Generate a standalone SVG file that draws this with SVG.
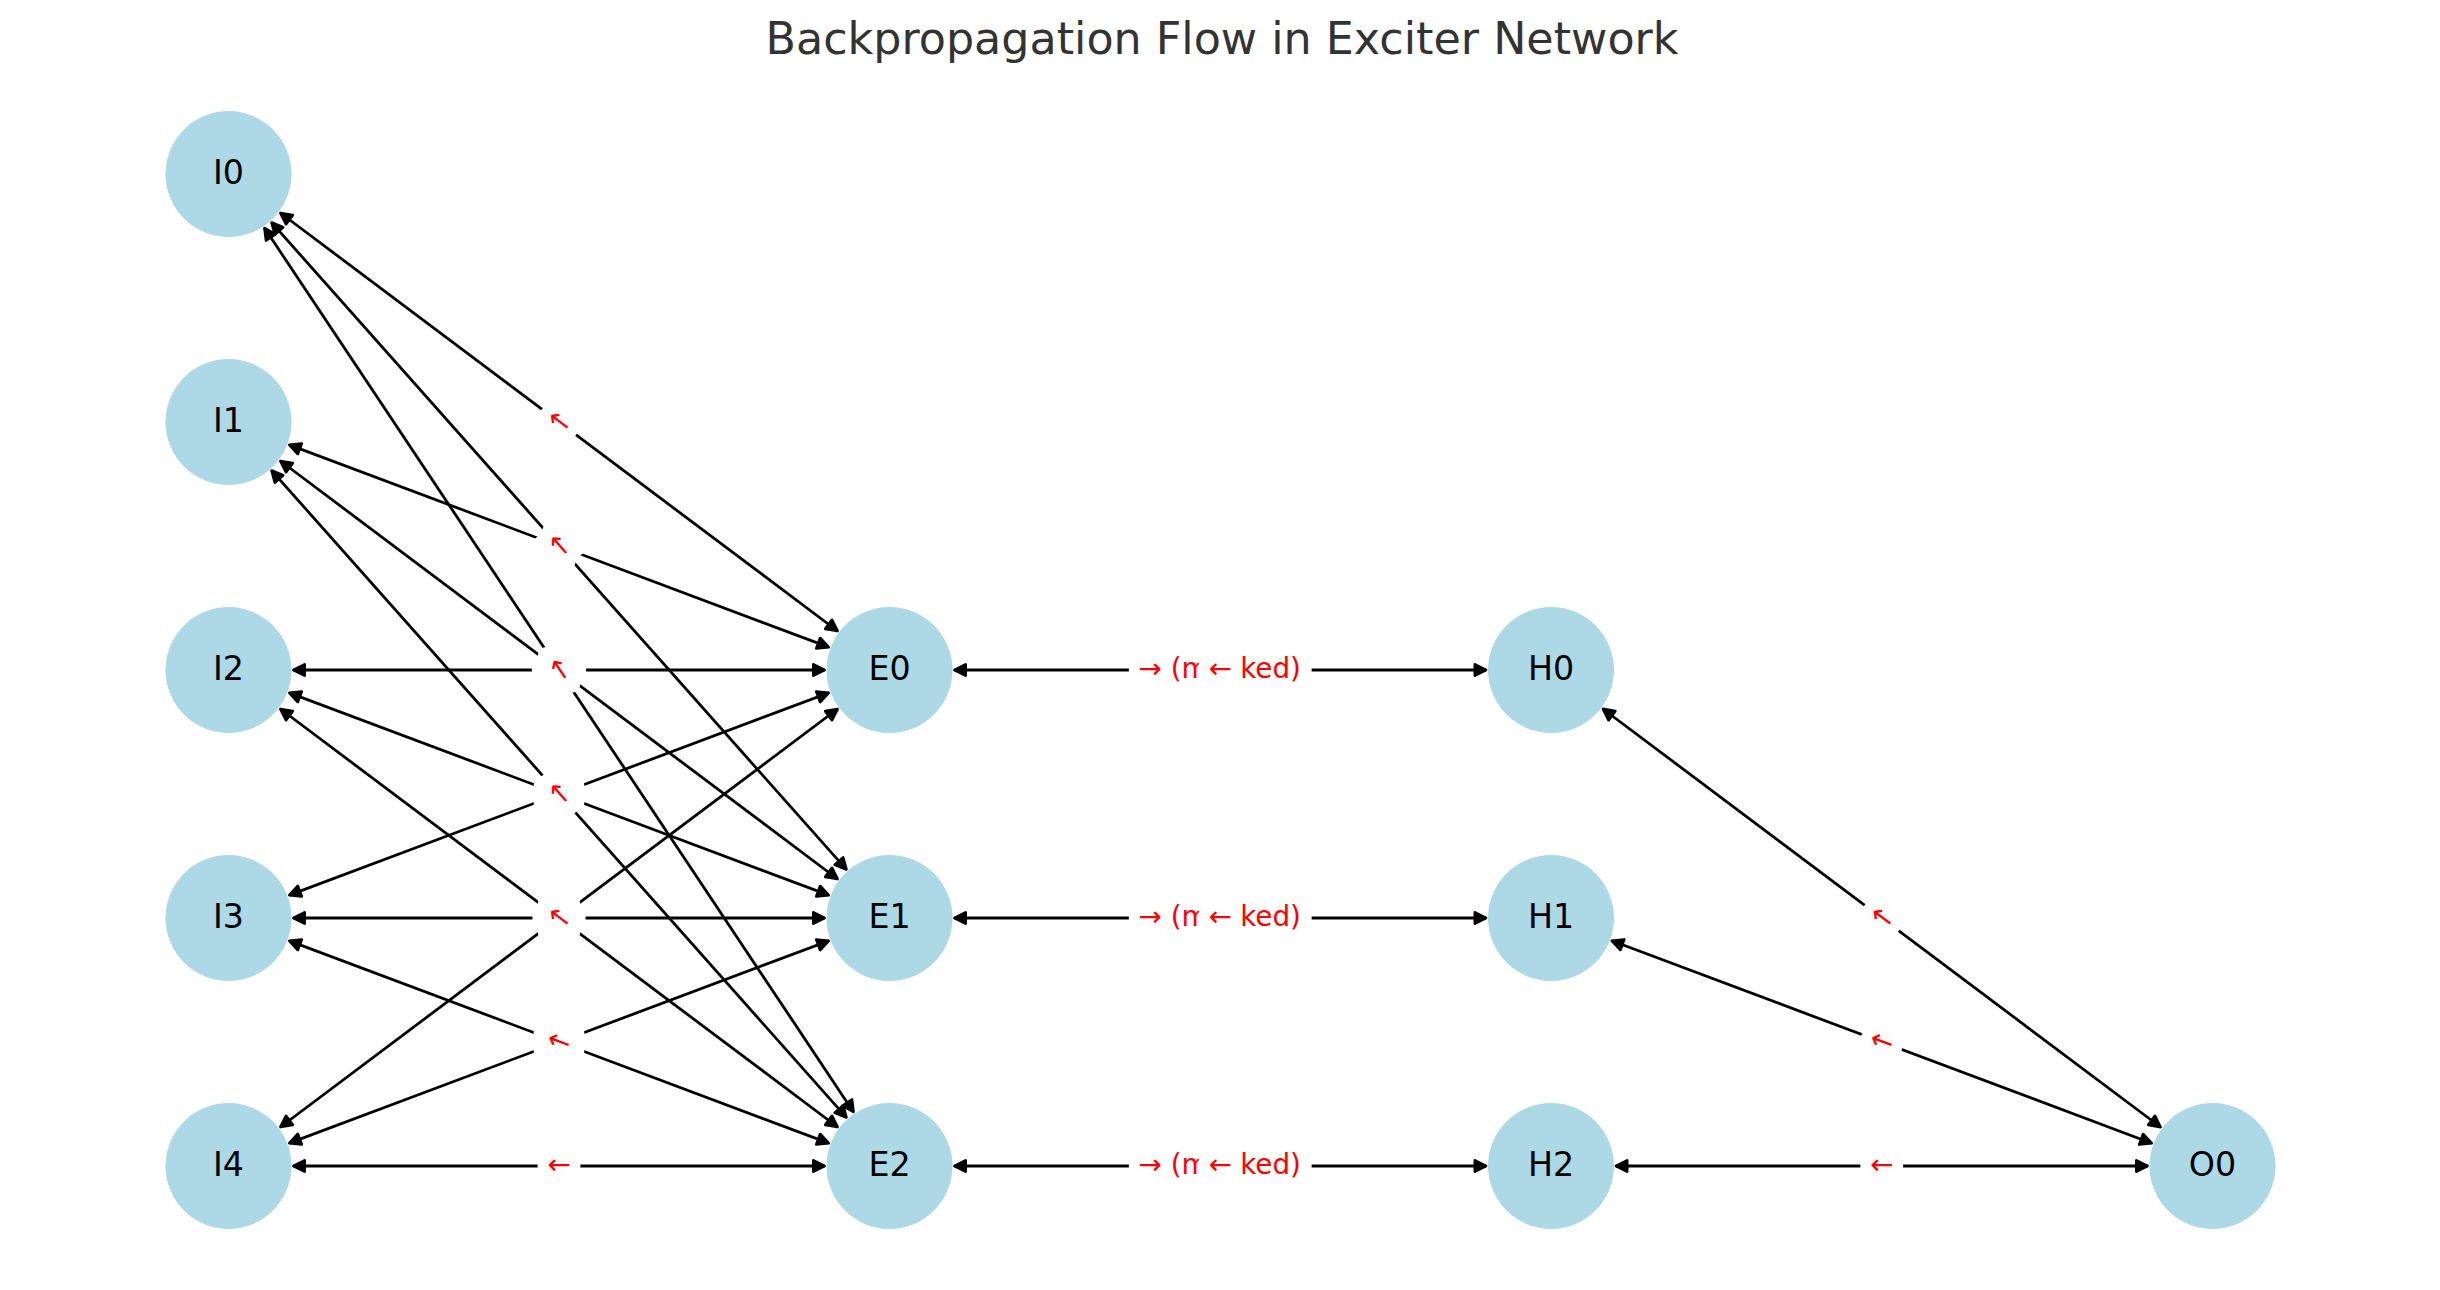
<svg xmlns="http://www.w3.org/2000/svg" width="2440" height="1290" viewBox="0 0 2440 1290">
<style>
.edge{stroke:#000;stroke-width:2.78;fill:none;marker-start:url(#ah);marker-end:url(#ah)}
.node{fill:#ADD8E6}
.nl{font-family:"DejaVu Sans","Liberation Sans",sans-serif;font-size:33.3px;fill:#000;text-anchor:middle}
.el{font-family:"DejaVu Sans","Liberation Sans",sans-serif;font-size:27.8px;fill:#FF0000;text-anchor:middle}
.es{font-family:"DejaVu Sans","Liberation Sans",sans-serif;font-size:27.8px;fill:#FF0000;text-anchor:start}
.lb{fill:#fff;stroke:#fff;stroke-width:2.78}
.title{font-family:"DejaVu Sans","Liberation Sans",sans-serif;font-size:44.4px;fill:#333333;text-anchor:middle}
</style>
<defs>
<marker id="ah" markerUnits="userSpaceOnUse" orient="auto-start-reverse" refX="11.1" refY="0" markerWidth="20" markerHeight="20" overflow="visible">
<path d="M0,-5.56 L11.1,0 L0,5.56 Z" fill="#000" stroke="#000" stroke-width="2.78" stroke-linejoin="round"/>
</marker>
</defs>
<rect width="2440" height="1290" fill="#fff"/>
<text class="title" x="1222" y="54">Backpropagation Flow in Exciter Network</text>
<g id="connectors">
<line class="edge" x1="280.49" y1="213.01" x2="837.51" y2="630.99"/>
<line class="edge" x1="271.67" y1="222.59" x2="846.33" y2="869.41"/>
<line class="edge" x1="264.54" y1="228.09" x2="853.46" y2="1111.91"/>
<line class="edge" x1="289.36" y1="444.83" x2="828.64" y2="647.17"/>
<line class="edge" x1="280.49" y1="461.01" x2="837.51" y2="878.99"/>
<line class="edge" x1="271.67" y1="470.59" x2="846.33" y2="1117.41"/>
<line class="edge" x1="293.5" y1="670" x2="824.5" y2="670"/>
<line class="edge" x1="289.36" y1="692.83" x2="828.64" y2="895.17"/>
<line class="edge" x1="280.49" y1="709.01" x2="837.51" y2="1126.99"/>
<line class="edge" x1="289.36" y1="895.17" x2="828.64" y2="692.83"/>
<line class="edge" x1="293.5" y1="918" x2="824.5" y2="918"/>
<line class="edge" x1="289.36" y1="940.83" x2="828.64" y2="1143.17"/>
<line class="edge" x1="280.49" y1="1126.99" x2="837.51" y2="709.01"/>
<line class="edge" x1="289.36" y1="1143.17" x2="828.64" y2="940.83"/>
<line class="edge" x1="293.5" y1="1166" x2="824.5" y2="1166"/>
<line class="edge" x1="954.5" y1="670" x2="1486" y2="670"/>
<line class="edge" x1="954.5" y1="918" x2="1486" y2="918"/>
<line class="edge" x1="954.5" y1="1166" x2="1486" y2="1166"/>
<line class="edge" x1="1603.01" y1="708.99" x2="2160.49" y2="1127.01"/>
<line class="edge" x1="1611.86" y1="940.82" x2="2151.64" y2="1143.18"/>
<line class="edge" x1="1616" y1="1166" x2="2147.5" y2="1166"/>
</g>
<g id="I0"><circle class="node" cx="228.5" cy="174" r="63"/><text class="nl" x="228.5" y="184">I0</text></g>
<g id="I1"><circle class="node" cx="228.5" cy="422" r="63"/><text class="nl" x="228.5" y="432">I1</text></g>
<g id="I2"><circle class="node" cx="228.5" cy="670" r="63"/><text class="nl" x="228.5" y="680">I2</text></g>
<g id="I3"><circle class="node" cx="228.5" cy="918" r="63"/><text class="nl" x="228.5" y="928">I3</text></g>
<g id="I4"><circle class="node" cx="228.5" cy="1166" r="63"/><text class="nl" x="228.5" y="1176">I4</text></g>
<g id="E0"><circle class="node" cx="889.5" cy="670" r="63"/><text class="nl" x="889.5" y="680">E0</text></g>
<g id="E1"><circle class="node" cx="889.5" cy="918" r="63"/><text class="nl" x="889.5" y="928">E1</text></g>
<g id="E2"><circle class="node" cx="889.5" cy="1166" r="63"/><text class="nl" x="889.5" y="1176">E2</text></g>
<g id="H0"><circle class="node" cx="1551" cy="670" r="63"/><text class="nl" x="1551" y="680">H0</text></g>
<g id="H1"><circle class="node" cx="1551" cy="918" r="63"/><text class="nl" x="1551" y="928">H1</text></g>
<g id="H2"><circle class="node" cx="1551" cy="1166" r="63"/><text class="nl" x="1551" y="1176">H2</text></g>
<g id="O0"><circle class="node" cx="2212.5" cy="1166" r="63"/><text class="nl" x="2212.5" y="1176">O0</text></g>
<g id="edge-labels">
<g transform="translate(559,422) rotate(36.88)"><rect class="lb" x="-20" y="-21.8" width="40" height="43.6" rx="8.34"/><text class="el" y="8">←</text></g>
<g transform="translate(559,546) rotate(20.56)"><rect class="lb" x="-20" y="-21.8" width="40" height="43.6" rx="8.34"/></g>
<g transform="translate(559,546) rotate(48.38)"><rect class="lb" x="-20" y="-21.8" width="40" height="43.6" rx="8.34"/><text class="el" y="8">←</text></g>
<g transform="translate(559,670)"><rect class="lb" x="-20" y="-21.8" width="40" height="43.6" rx="8.34"/></g>
<g transform="translate(559,670) rotate(36.88)"><rect class="lb" x="-20" y="-21.8" width="40" height="43.6" rx="8.34"/></g>
<g transform="translate(559,670) rotate(56.32)"><rect class="lb" x="-20" y="-21.8" width="40" height="43.6" rx="8.34"/><text class="el" y="8">←</text></g>
<g transform="translate(559,794) rotate(-20.56)"><rect class="lb" x="-20" y="-21.8" width="40" height="43.6" rx="8.34"/></g>
<g transform="translate(559,794) rotate(20.56)"><rect class="lb" x="-20" y="-21.8" width="40" height="43.6" rx="8.34"/></g>
<g transform="translate(559,794) rotate(48.38)"><rect class="lb" x="-20" y="-21.8" width="40" height="43.6" rx="8.34"/><text class="el" y="8">←</text></g>
<g transform="translate(559,918) rotate(-36.88)"><rect class="lb" x="-20" y="-21.8" width="40" height="43.6" rx="8.34"/></g>
<g transform="translate(559,918)"><rect class="lb" x="-20" y="-21.8" width="40" height="43.6" rx="8.34"/></g>
<g transform="translate(559,918) rotate(36.88)"><rect class="lb" x="-20" y="-21.8" width="40" height="43.6" rx="8.34"/><text class="el" y="8">←</text></g>
<g transform="translate(559,1042) rotate(-20.56)"><rect class="lb" x="-20" y="-21.8" width="40" height="43.6" rx="8.34"/></g>
<g transform="translate(559,1042) rotate(20.56)"><rect class="lb" x="-20" y="-21.8" width="40" height="43.6" rx="8.34"/><text class="el" y="8">←</text></g>
<g transform="translate(559,1166)"><rect class="lb" x="-20" y="-21.8" width="40" height="43.6" rx="8.34"/><text class="el" y="8">←</text></g>
<g transform="translate(1220.25,670)"><rect class="lb" x="-90" y="-21.8" width="180" height="43.6" rx="8.34"/><text class="es" x="-81.65" y="8">→ (m</text><text class="es" x="19.95" y="8">ked)</text><rect class="lb" x="-20" y="-21.8" width="40" height="43.6" rx="8.34"/><text class="el" y="8">←</text></g>
<g transform="translate(1220.25,918)"><rect class="lb" x="-90" y="-21.8" width="180" height="43.6" rx="8.34"/><text class="es" x="-81.65" y="8">→ (m</text><text class="es" x="19.95" y="8">ked)</text><rect class="lb" x="-20" y="-21.8" width="40" height="43.6" rx="8.34"/><text class="el" y="8">←</text></g>
<g transform="translate(1220.25,1166)"><rect class="lb" x="-90" y="-21.8" width="180" height="43.6" rx="8.34"/><text class="es" x="-81.65" y="8">→ (m</text><text class="es" x="19.95" y="8">ked)</text><rect class="lb" x="-20" y="-21.8" width="40" height="43.6" rx="8.34"/><text class="el" y="8">←</text></g>
<g transform="translate(1881.75,918) rotate(36.86)"><rect class="lb" x="-20" y="-21.8" width="40" height="43.6" rx="8.34"/><text class="el" y="8">←</text></g>
<g transform="translate(1881.75,1042) rotate(20.55)"><rect class="lb" x="-20" y="-21.8" width="40" height="43.6" rx="8.34"/><text class="el" y="8">←</text></g>
<g transform="translate(1881.75,1166)"><rect class="lb" x="-20" y="-21.8" width="40" height="43.6" rx="8.34"/><text class="el" y="8">←</text></g>
</g>
</svg>
